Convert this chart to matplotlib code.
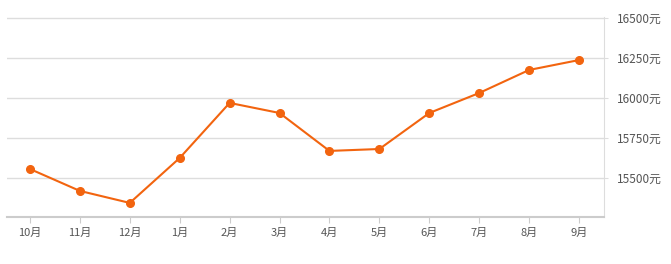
import matplotlib
matplotlib.use("Agg")
import matplotlib.pyplot as plt
from matplotlib.ticker import FuncFormatter

plt.rcParams['font.family'] = ['Noto Sans CJK SC', 'DejaVu Sans']

# maanden en prijzen
months = ["10月", "11月", "12月", "1月", "2月", "3月", "4月", "5月", "6月", "7月", "8月", "9月"]
prices = [15556, 15419, 15344, 15625, 15969, 15906, 15669, 15681, 15906, 16031, 16175, 16237]
y_ticks = [15500, 15750, 16000, 16250, 16500]

fig = plt.figure(figsize=(6.71, 2.64), dpi=100)
ax = fig.add_axes([7 / 671, 1 - 217 / 264, (604 - 7) / 671, (217 - 17) / 264])

x = list(range(len(months)))
ax.plot(x, prices, color="#f2640f", linewidth=1.5, marker="o", markersize=5.5, zorder=3)

ax.set_xlim(-0.46, 11.5)
ax.set_ylim(15256, 16506)
ax.set_xticks(x)
ax.set_xticklabels(months)
ax.set_yticks(y_ticks)
ax.yaxis.set_major_formatter(FuncFormatter(lambda v, p: f"{int(v)}元"))
ax.yaxis.tick_right()

ax.grid(axis="y", color="#dddddd", linewidth=1)
ax.set_axisbelow(True)
for s in ["top", "left"]:
    ax.spines[s].set_visible(False)
ax.spines["right"].set_color("#dddddd")
ax.spines["bottom"].set_color("#cccccc")
ax.spines["bottom"].set_linewidth(1.5)

ax.tick_params(axis="x", colors="#cccccc", labelcolor="#555555", labelsize=8, length=4, pad=4)
ax.tick_params(axis="y", colors="#dddddd", labelcolor="#555555", labelsize=8.5, length=3, pad=6)

fig.savefig("out.png", dpi=100)
